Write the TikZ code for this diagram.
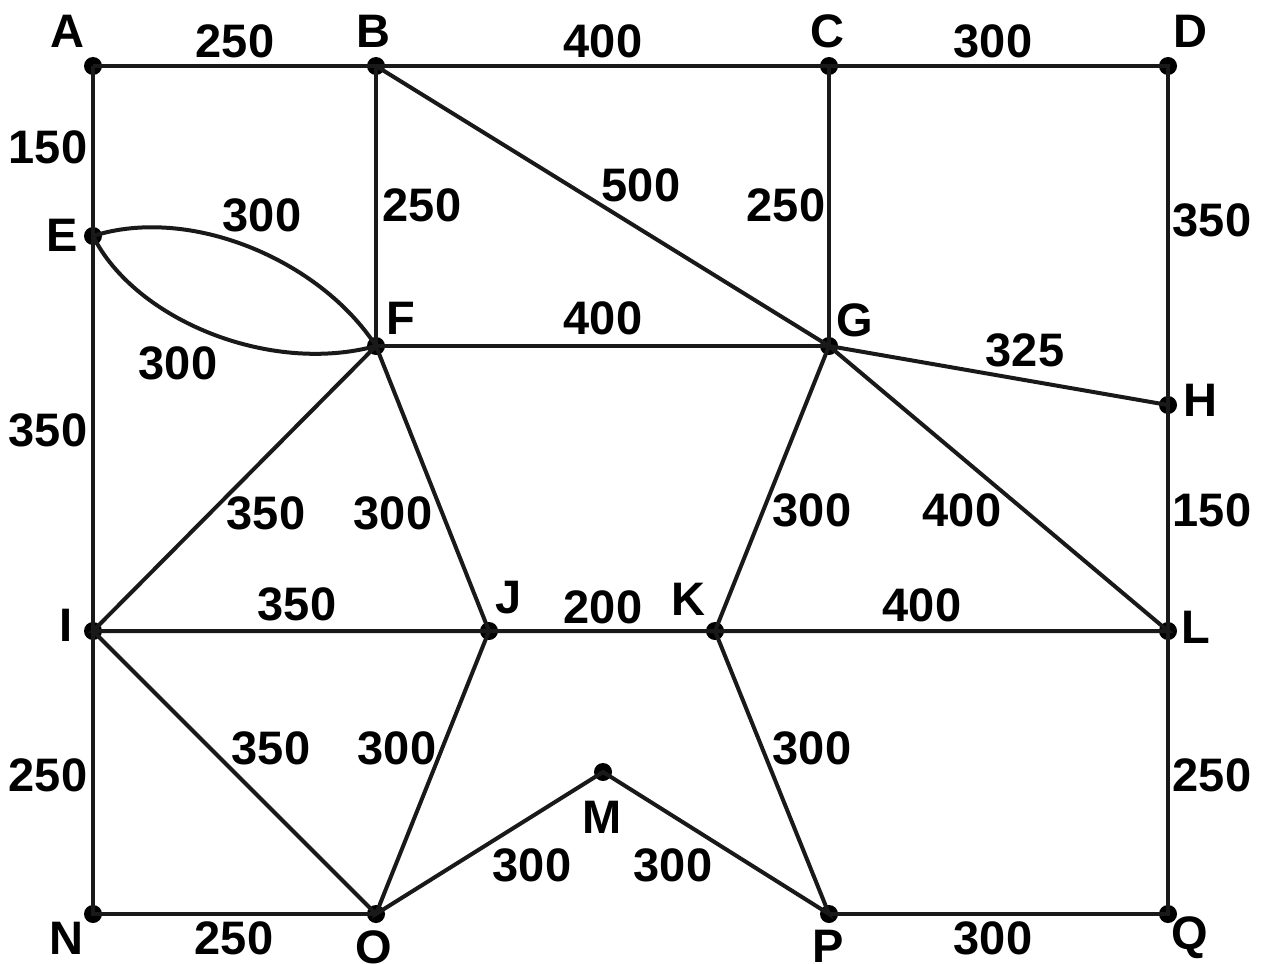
\documentclass[tikz,border=0pt]{standalone}
\usepackage{fontspec}
\setmainfont{Liberation Sans}
\begin{document}
\begin{tikzpicture}[x=1pt,y=-1pt,
  pt/.style={circle,fill=black,inner sep=0pt,minimum size=18pt},
  lbl/.style={inner sep=0pt,font=\fontsize{47}{47}\selectfont\bfseries},
  edge/.style={line width=4pt,black!90}]
\useasboundingbox (0,0) rectangle (1265,963);
% points
\node[pt] (A) at (93,66) {};
\node[pt] (B) at (376,66) {};
\node[pt] (C) at (829,66) {};
\node[pt] (D) at (1168,66) {};
\node[pt] (E) at (93,236) {};
\node[pt] (F) at (376,346) {};
\node[pt] (G) at (829,346) {};
\node[pt] (H) at (1168,405) {};
\node[pt] (I) at (93,631) {};
\node[pt] (J) at (489,631) {};
\node[pt] (K) at (715,631) {};
\node[pt] (L) at (1168,631) {};
\node[pt] (M) at (603,772) {};
\node[pt] (N) at (93,914) {};
\node[pt] (O) at (376,914) {};
\node[pt] (P) at (829,914) {};
\node[pt] (Q) at (1168,914) {};
% edges
\draw[edge] (A.center) -- (B.center) -- (C.center) -- (D.center) -- (H.center) -- (L.center) -- (Q.center) -- (P.center);
\draw[edge] (A.center) -- (E.center) -- (I.center) -- (N.center) -- (O.center);
\draw[edge] (B.center) -- (F.center) -- (G.center) -- (C.center);
\draw[edge] (B.center) -- (G.center) -- (H.center);
\draw[edge] (E.center) .. controls (190,205) and (320,260) .. (F.center);
\draw[edge] (E.center) .. controls (135,320) and (270,375) .. (F.center);
\draw[edge] (F.center) -- (I.center) -- (J.center) -- (K.center) -- (L.center) -- (G.center) -- (K.center) -- (P.center) -- (M.center) -- (O.center) -- (J.center) -- (F.center);
\draw[edge] (I.center) -- (O.center);
% vertex labels
\node[lbl] (lA) at (67,31) {A};
\node[lbl] (lB) at (373,31) {B};
\node[lbl] (lC) at (827,31) {C};
\node[lbl] (lD) at (1190,31) {D};
\node[lbl] (lE) at (62,235) {E};
\node[lbl] (lF) at (401,318) {F};
\node[lbl] (lG) at (855,320) {G};
\node[lbl] (lH) at (1200,400) {H};
\node[lbl] (lI) at (66,625) {I};
\node[lbl] (lJ) at (509,598) {J};
\node[lbl] (lK) at (688,599) {K};
\node[lbl] (lL) at (1196,627) {L};
\node[lbl] (lM) at (602,817) {M};
\node[lbl] (lN) at (66,938) {N};
\node[lbl] (lO) at (374,947) {O};
\node[lbl] (lP) at (828,946) {P};
\node[lbl] (lQ) at (1190,938) {Q};
% edge labels
\node[lbl] (wAB) at (235,41) {250};
\node[lbl] (wBC) at (603,41) {400};
\node[lbl] (wCD) at (993,41) {300};
\node[lbl] (wAE) at (48,147) {150};
\node[lbl] (wEF1) at (262,215) {300};
\node[lbl] (wBF) at (422,205) {250};
\node[lbl] (wBG) at (641,185) {500};
\node[lbl] (wCG) at (786,205) {250};
\node[lbl] (wDH) at (1212,220) {350};
\node[lbl] (wEF2) at (178,363) {300};
\node[lbl] (wFG) at (603,318) {400};
\node[lbl] (wGH) at (1025,350) {325};
\node[lbl] (wEI) at (48,430) {350};
\node[lbl] (wFI) at (266,513) {350};
\node[lbl] (wFJ) at (393,513) {300};
\node[lbl] (wGK) at (812,510) {300};
\node[lbl] (wGL) at (962,510) {400};
\node[lbl] (wHL) at (1212,510) {150};
\node[lbl] (wIJ) at (297,604) {350};
\node[lbl] (wJK) at (603,607) {200};
\node[lbl] (wKL) at (922,605) {400};
\node[lbl] (wIN) at (48,775) {250};
\node[lbl] (wIO) at (271,748) {350};
\node[lbl] (wJO) at (397,748) {300};
\node[lbl] (wKP) at (812,748) {300};
\node[lbl] (wLQ) at (1212,775) {250};
\node[lbl] (wOM) at (532,865) {300};
\node[lbl] (wMP) at (673,865) {300};
\node[lbl] (wNO) at (234,938) {250};
\node[lbl] (wPQ) at (993,938) {300};
\end{tikzpicture}
\end{document}
